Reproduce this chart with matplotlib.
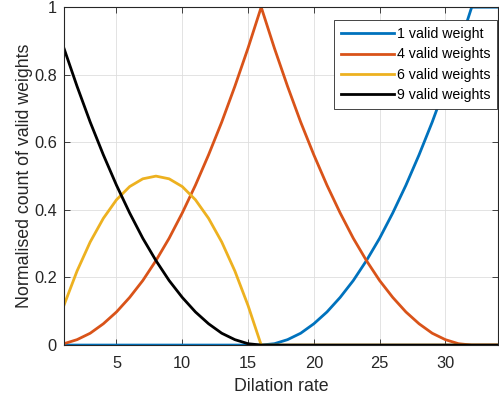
import matplotlib.pyplot as plt
import numpy as np

plt.rcParams['font.family'] = ['Liberation Sans', 'DejaVu Sans']

# dilation rates and normalised counts
dilation = list(range(1, 35))
w1 = [0] * 16 + [0.004, 0.016, 0.035, 0.063, 0.098, 0.141, 0.191, 0.25,
                 0.316, 0.391, 0.473, 0.563, 0.660, 0.766, 0.879, 1.0, 1.0, 1.0]
w4 = [0.004, 0.016, 0.035, 0.063, 0.098, 0.141, 0.191, 0.25, 0.316, 0.391,
      0.473, 0.563, 0.660, 0.766, 0.879, 1.0,
      0.879, 0.766, 0.660, 0.563, 0.473, 0.391, 0.316, 0.25, 0.191, 0.141,
      0.098, 0.063, 0.035, 0.016, 0.004, 0, 0, 0]
w6 = [0.117, 0.219, 0.305, 0.375, 0.430, 0.469, 0.492, 0.5, 0.492, 0.469,
      0.430, 0.375, 0.305, 0.219, 0.117, 0] + [0] * 18
w9 = [0.879, 0.766, 0.660, 0.563, 0.473, 0.391, 0.316, 0.25, 0.191, 0.141,
      0.098, 0.063, 0.035, 0.016, 0.004, 0] + [0] * 18

series = [
    (w1, '1 valid weight', '#0072BD'),
    (w4, '4 valid weights', '#D95319'),
    (w6, '6 valid weights', '#EDB120'),
    (w9, '9 valid weights', '#000000'),
]

fig = plt.figure(figsize=(4.99, 3.98), dpi=100)
ax = fig.add_axes([0.128, 0.133, 0.870, 0.849])

for vals, lab, col in series:
    ax.plot(dilation, vals, color=col, lw=2, label=lab)

ax.set_xlim(1, 34)
ax.set_ylim(0, 1)
ax.set_xticks([5, 10, 15, 20, 25, 30])
ax.set_yticks([0, 0.2, 0.4, 0.6, 0.8, 1])
ax.set_yticklabels(['0', '0.2', '0.4', '0.6', '0.8', '1'])
ax.tick_params(direction='in', top=True, right=True, labelsize=11.8,
               colors='#262626', length=4, width=0.6)
ax.tick_params(axis='x', pad=8)
ax.tick_params(axis='y', pad=5)
ax.grid(True, color='#dedede', lw=0.6)
for s in ax.spines.values():
    s.set_color('#262626')
    s.set_linewidth(0.8)

ax.set_xlabel('Dilation rate', fontsize=12.8, color='#262626', labelpad=5)
ax.set_ylabel('Normalised count of valid weights', fontsize=12.8,
              color='#262626', labelpad=1)

leg = ax.legend(loc='upper right', fontsize=10.2, handlelength=3.7,
                handletextpad=0.2, borderpad=0.5, labelspacing=0.45,
                fancybox=False, framealpha=1, borderaxespad=0,
                bbox_to_anchor=(0.998, 0.962))
leg.get_frame().set_edgecolor('#262626')
leg.get_frame().set_linewidth(0.6)

fig.savefig('out.png', dpi=100)
